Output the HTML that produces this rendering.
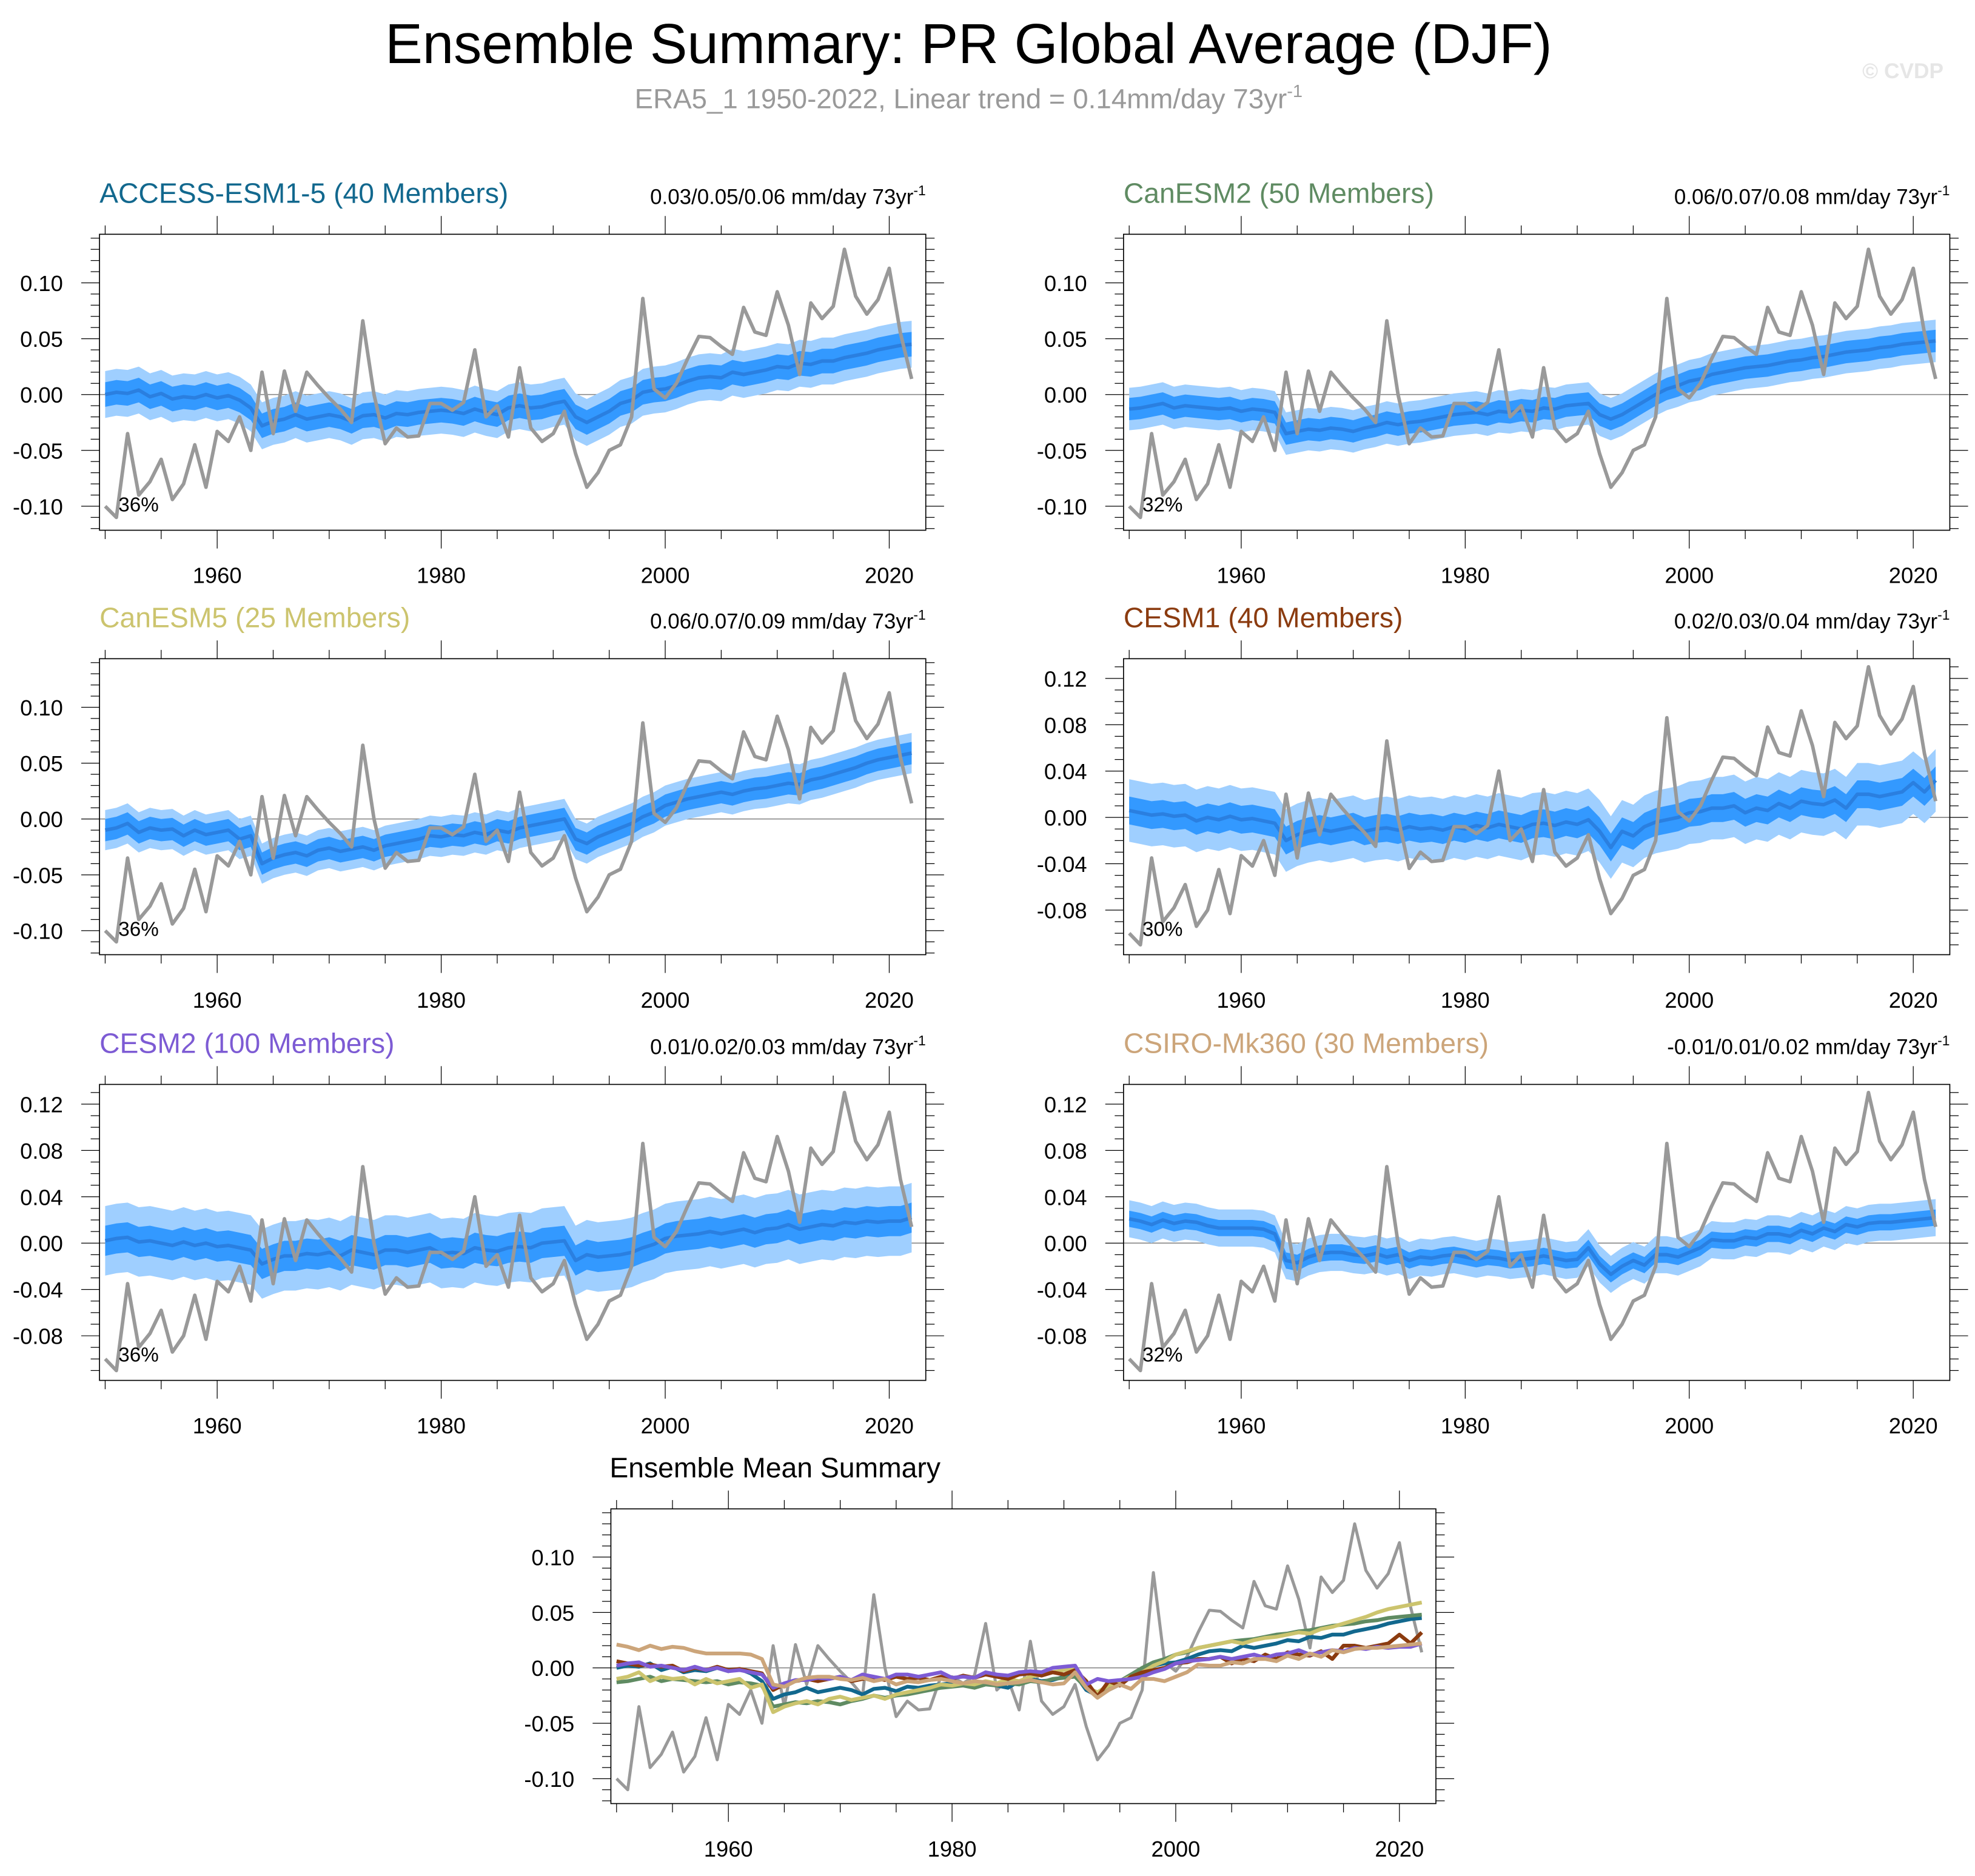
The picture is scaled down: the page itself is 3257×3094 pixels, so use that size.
<!DOCTYPE html>
<html><head><meta charset="utf-8"><style>
html,body{margin:0;padding:0;background:#fff;}
svg{display:block;font-family:"Liberation Sans",Arial,sans-serif;}
</style></head><body>
<svg id="chart" width="3257" height="3094" viewBox="0 0 1568 1489.5" preserveAspectRatio="none" xmlns="http://www.w3.org/2000/svg">
<text x="769" y="50" font-size="44.5" text-anchor="middle" fill="#000">Ensemble Summary: PR Global Average (DJF)</text>
<text x="769" y="86" font-size="22" text-anchor="middle" fill="#999">ERA5_1 1950-2022, Linear trend = 0.14mm/day 73yr<tspan font-size="14" dy="-9">-1</tspan></text>
<text x="1543" y="62" font-size="17" font-weight="bold" text-anchor="end" fill="#e6e6e6">© CVDP</text>
<g id="panels"></g>
</svg>
<script>
const years = [];
for (let y = 1950; y <= 2022; y++) years.push(y);
const obs = [-0.100,-0.110,-0.035,-0.090,-0.078,-0.058,-0.094,-0.080,-0.045,-0.083,-0.033,-0.042,-0.020,-0.050,0.020,-0.035,0.021,-0.015,0.020,0.008,-0.003,-0.013,-0.025,0.066,0.000,-0.044,-0.030,-0.038,-0.037,-0.008,-0.008,-0.014,-0.007,0.040,-0.020,-0.010,-0.038,0.024,-0.030,-0.042,-0.035,-0.015,-0.053,-0.083,-0.070,-0.050,-0.045,-0.020,0.086,0.005,-0.003,0.010,0.032,0.052,0.051,0.043,0.036,0.078,0.056,0.053,0.092,0.062,0.018,0.082,0.068,0.079,0.130,0.088,0.072,0.085,0.113,0.055,0.014];
const meanACCESS = [0.000,0.002,0.001,0.004,-0.002,0.001,-0.004,-0.002,-0.003,0.000,-0.003,-0.001,-0.005,-0.012,-0.028,-0.024,-0.022,-0.018,-0.022,-0.020,-0.018,-0.020,-0.024,-0.019,-0.018,-0.021,-0.017,-0.018,-0.016,-0.015,-0.014,-0.015,-0.017,-0.013,-0.016,-0.018,-0.012,-0.010,-0.012,-0.011,-0.008,-0.006,-0.020,-0.025,-0.020,-0.015,-0.008,-0.005,0.002,0.004,0.005,0.008,0.012,0.015,0.016,0.015,0.020,0.018,0.020,0.022,0.025,0.024,0.028,0.027,0.030,0.030,0.033,0.035,0.037,0.040,0.042,0.044,0.045];
const meanCanESM2 = [-0.013,-0.012,-0.010,-0.008,-0.012,-0.010,-0.011,-0.012,-0.013,-0.012,-0.015,-0.013,-0.014,-0.016,-0.035,-0.033,-0.031,-0.032,-0.030,-0.031,-0.033,-0.030,-0.028,-0.025,-0.027,-0.025,-0.024,-0.022,-0.020,-0.018,-0.017,-0.016,-0.018,-0.015,-0.016,-0.014,-0.015,-0.012,-0.013,-0.010,-0.009,-0.008,-0.018,-0.022,-0.018,-0.012,-0.006,0.000,0.005,0.008,0.012,0.014,0.018,0.020,0.022,0.024,0.025,0.026,0.028,0.030,0.031,0.033,0.034,0.036,0.038,0.039,0.040,0.042,0.043,0.045,0.046,0.047,0.048];
const meanCanESM5 = [-0.010,-0.008,-0.004,-0.012,-0.008,-0.010,-0.009,-0.015,-0.010,-0.014,-0.012,-0.010,-0.018,-0.015,-0.040,-0.035,-0.032,-0.030,-0.033,-0.028,-0.026,-0.029,-0.027,-0.025,-0.028,-0.024,-0.022,-0.020,-0.018,-0.015,-0.016,-0.014,-0.015,-0.012,-0.014,-0.010,-0.012,-0.008,-0.006,-0.004,-0.002,0.000,-0.018,-0.022,-0.016,-0.012,-0.008,-0.004,0.002,0.006,0.012,0.015,0.018,0.020,0.022,0.024,0.022,0.025,0.027,0.028,0.030,0.032,0.031,0.035,0.037,0.040,0.043,0.046,0.050,0.053,0.055,0.057,0.059];
const meanCESM1 = [0.006,0.004,0.002,0.003,0.001,0.002,-0.003,0.000,-0.002,0.001,-0.002,-0.001,-0.003,-0.005,-0.020,-0.015,-0.012,-0.010,-0.012,-0.010,-0.008,-0.012,-0.010,-0.009,-0.011,-0.008,-0.010,-0.009,-0.011,-0.008,-0.010,-0.007,-0.009,-0.006,-0.008,-0.010,-0.006,-0.005,-0.007,-0.004,-0.006,-0.002,-0.012,-0.026,-0.012,-0.016,-0.008,-0.004,-0.002,0.000,0.004,0.005,0.008,0.008,0.010,0.004,0.008,0.006,0.012,0.008,0.014,0.012,0.011,0.015,0.008,0.020,0.020,0.018,0.020,0.022,0.030,0.022,0.032];
const meanCESM2 = [0.002,0.004,0.005,0.001,0.002,0.000,-0.002,0.001,-0.002,0.000,-0.003,-0.002,-0.004,-0.006,-0.018,-0.014,-0.011,-0.011,-0.009,-0.010,-0.008,-0.011,-0.006,-0.008,-0.010,-0.006,-0.006,-0.008,-0.006,-0.004,-0.009,-0.008,-0.009,-0.004,-0.006,-0.007,-0.004,-0.003,-0.004,0.000,0.001,0.002,-0.015,-0.010,-0.012,-0.011,-0.010,-0.008,-0.004,-0.001,0.004,0.006,0.007,0.008,0.010,0.008,0.010,0.012,0.009,0.012,0.013,0.016,0.012,0.014,0.016,0.015,0.018,0.017,0.019,0.018,0.019,0.019,0.022];
const meanCSIRO = [0.021,0.019,0.016,0.020,0.017,0.019,0.018,0.015,0.013,0.013,0.013,0.013,0.012,0.008,-0.015,-0.017,-0.012,-0.009,-0.008,-0.008,-0.010,-0.011,-0.009,-0.012,-0.010,-0.015,-0.012,-0.013,-0.011,-0.010,-0.012,-0.014,-0.012,-0.013,-0.015,-0.014,-0.013,-0.011,-0.013,-0.015,-0.014,-0.004,-0.018,-0.027,-0.020,-0.015,-0.019,-0.010,-0.010,-0.012,-0.008,-0.004,0.003,0.002,0.002,0.005,0.004,0.008,0.008,0.006,0.011,0.008,0.013,0.010,0.016,0.014,0.017,0.018,0.018,0.019,0.020,0.021,0.022];
const modelNames = ["ACCESS-ESM1-5 (40 Members)","CanESM2 (50 Members)","CanESM5 (25 Members)","CESM1 (40 Members)","CESM2 (100 Members)","CSIRO-Mk360 (30 Members)"];
const trendLabels = ["0.03/0.05/0.06","0.06/0.07/0.08","0.06/0.07/0.09","0.02/0.03/0.04","0.01/0.02/0.03","-0.01/0.01/0.02"];
const pctLabels = ["36%","32%","36%","30%","36%","32%"];
const innerSpread = [0.011,0.010,0.010,0.012,0.013,0.007];
const outerSpread = [0.021,0.019,0.018,0.027,0.030,0.016];
const modelColors = ["#12688e","#5f8b62","#ccc46e","#8b3b0f","#7d5bd4","#cca57a"];
const means = [meanACCESS,meanCanESM2,meanCanESM5,meanCESM1,meanCESM2,meanCSIRO];
const ticks05 = [-0.10,-0.05,0.00,0.05,0.10];
const ticks04 = [-0.08,-0.04,0.00,0.04,0.08,0.12];
const xLabels = [1960,1980,2000,2020];

const NS="http://www.w3.org/2000/svg";
const root=document.getElementById('panels');
function el(tag,attrs,parent){const e=document.createElementNS(NS,tag);for(const k in attrs)e.setAttribute(k,attrs[k]);(parent||root).appendChild(e);return e;}

function drawPanel(idx,L,T,W,H,ymin,ymax,ytk,fmt,minorStep,isSummary){
  const g=el('g',{});
  
  
  const xS=y=>L+4.5+(y-1950)*(W-9.5)/72.7;
  const yS=v=>T+(ymax-v)/(ymax-ymin)*H;
  for(let yr=1950;yr<=2020;yr+=5){
    const major=yr%20===0, len=major?14.5:7, x=xS(yr);
    const t1=el('line',{x1:x,x2:x,y1:T,y2:T-len,stroke:'#000','stroke-width':0.6},g);
    
    
    const t2=el('line',{x1:x,x2:x,y1:T+H,y2:T+H+len,stroke:'#000','stroke-width':0.6},g);
    
    
  }
  xLabels.forEach(yr=>{
    const t=el('text',{x:xS(yr),y:T+H+42,'font-size':17.5,'text-anchor':'middle'},g);
    
    
    t.textContent=yr;
  });
  const nMin=Math.ceil(ymin/minorStep-1e-6), nMax=Math.floor(ymax/minorStep+1e-6);
  for(let n=nMin;n<=nMax;n++){
    const v=n*minorStep, isMaj=ytk.some(t=>Math.abs(t-v)<1e-6), len=isMaj?14.5:7, y=yS(v);
    const a=el('line',{x1:L,x2:L-len,y1:y,y2:y,stroke:'#000','stroke-width':0.6},g);
    
    
    const b=el('line',{x1:L+W,x2:L+W+len,y1:y,y2:y,stroke:'#000','stroke-width':0.6},g);
    
    
  }
  ytk.forEach(v=>{
    const t=el('text',{x:L-29,y:yS(v)+6.5,'font-size':17.5,'text-anchor':'end'},g);
    
    
    t.textContent=(v<0?'-':'')+Math.abs(v).toFixed(fmt);
  });
  const clipId='clip'+idx;
  const cp=el('clipPath',{id:clipId},g);el('rect',{x:L,y:T,width:W,height:H},cp);
  const inner=el('g',{'clip-path':'url(#'+clipId+')'},g);
  const zl=el('line',{x1:L,x2:L+W,y1:yS(0),y2:yS(0),stroke:'#888','stroke-width':0.8},inner);
  
  
  const line=(arr)=>arr.map((v,i)=>(i?'L':'M')+xS(years[i]).toFixed(2)+','+yS(v).toFixed(2)).join('');
  if(!isSummary){
    const m=means[idx];
    const band=(s)=>{let d=m.map((v,i)=>(i?'L':'M')+xS(years[i]).toFixed(2)+','+yS(v+s).toFixed(2)).join('');
      for(let i=m.length-1;i>=0;i--)d+='L'+xS(years[i]).toFixed(2)+','+yS(m[i]-s).toFixed(2);return d+'Z';};
    const o=el('path',{d:band(outerSpread[idx]),fill:'#9fcfff'},inner);
    
    
    const n=el('path',{d:band(innerSpread[idx]),fill:'#3399ff'},inner);
    
    
    const ml=el('path',{d:line(m),fill:'none',stroke:'#2a7fe0','stroke-width':2.8,'stroke-linejoin':'round'},inner);
    
    
  }
  const ol=el('path',{d:line(obs),fill:'none',stroke:'#999','stroke-width':isSummary?2.4:2.8,'stroke-linejoin':'round'},inner);
  
  
  if(isSummary){
    means.forEach((m,k)=>{
      const p=el('path',{d:line(m),fill:'none',stroke:modelColors[k],'stroke-width':3,'stroke-linejoin':'round'},inner);
      
      
    });
  }
  const fr=el('rect',{x:L,y:T,width:W,height:H,fill:'none',stroke:'#000','stroke-width':0.8},g);
  
  
  if(!isSummary){
    const pt=el('text',{x:L+15,y:T+220,'font-size':16},g);
    
    
    pt.textContent=pctLabels[idx];
    const tt=el('text',{x:L,y:T-25,'font-size':22.3,fill:modelColors[idx]},g);
    
    
    tt.textContent=modelNames[idx];
    const tr=el('text',{x:L+W,y:T-24,'font-size':16.8,'text-anchor':'end'},g);
    
    
    tr.innerHTML=trendLabels[idx]+' mm/day 73yr<tspan font-size="11" dy="-7">-1</tspan>';
  } else {
    const tt=el('text',{x:L-1,y:T-25,'font-size':22.3},g);
    
    
    tt.textContent='Ensemble Mean Summary';
  }
}
const lefts=[79,892], tops=[186,523,861];
for(let i=0;i<6;i++){
  const L=lefts[i%2], T=tops[Math.floor(i/2)];
  if(i>=3) drawPanel(i,L,T,656,235,-0.1185,0.137,ticks04,2,0.01,false);
  else drawPanel(i,L,T,656,235,-0.1215,0.1435,ticks05,2,0.01,false);
}
drawPanel(6,485,1198,655,234,-0.1225,0.1435,ticks05,2,0.01,true);
</script>
</body></html>
